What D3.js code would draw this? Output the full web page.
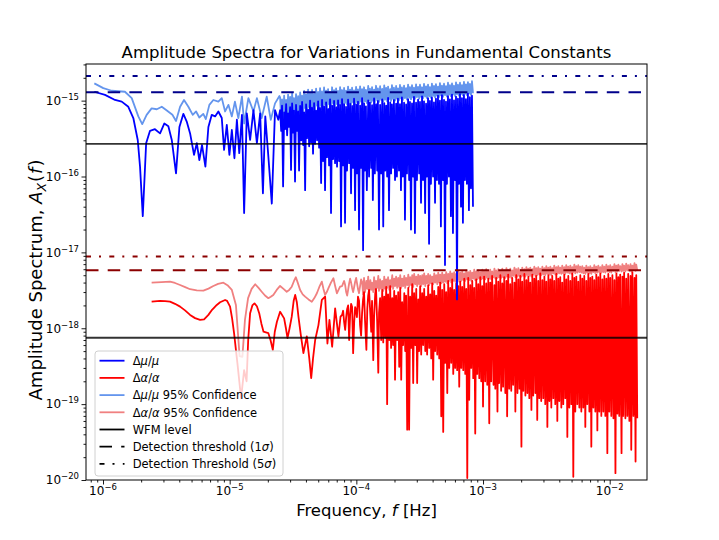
<!DOCTYPE html>
<html>
<head>
<meta charset="utf-8">
<script src="https://cdn.jsdelivr.net/npm/d3@7"></script>
<style>
  body { margin: 0; background: #fff; }
  svg { font-family: "DejaVu Sans", sans-serif; }
  text { white-space: pre; }
</style>
</head>
<body>
<svg id="chart" width="719" height="540"></svg>
<script>
// units used in the arrays below
var FREQ_UNIT = 1e-6;    // frequencies in microhertz
var MU_UNIT = 1e-16;     // dmu/mu amplitudes in 1e-16
var ALPHA_UNIT = 1e-18;  // dalpha/alpha amplitudes in 1e-18

// dmu/mu, low frequency part
var muFreqLow = [0.854, 1.037, 1.244, 1.405, 1.584, 1.735, 1.88, 1.96, 2.06, 2.19,
  2.35, 2.57, 2.82, 3.05, 3.28, 3.49, 3.77, 4.01, 4.31, 4.58,
  4.87, 5.23, 5.50, 5.76, 6.05, 6.43, 6.79, 7.22, 7.67, 8.14,
  8.66, 9.03, 9.49, 9.95, 10.4, 10.9, 11.4, 11.9, 12.5, 13.0,
  13.65, 14.5, 15.4, 16.4, 17.4, 18.3, 19.1, 20.2, 21.5, 22.8, 24.2];
var muAmpLow = [13.1, 11.9, 10.2, 9.7, 8.3, 5.9, 3.03, 1.35, 0.30, 2.75,
  4.0, 4.2, 3.7, 5.0, 4.6, 3.03, 1.1, 4.5, 6.7, 5.3,
  3.7, 1.93, 2.75, 1.65, 2.6, 1.35, 4.5, 6.5, 6.2, 7.2,
  5.9, 2.24, 4.8, 1.93, 4.1, 1.74, 5.6, 2.03, 6.5, 0.33,
  6.8, 3.03, 7.5, 2.75, 6.8, 0.60, 6.2, 1.83, 0.44, 7.5, 5.6];

var muConfFreqLow = [0.854, 1.005, 1.171, 1.49, 1.685, 1.90, 2.04, 2.21, 2.42, 2.66,
  2.91, 3.19, 3.53, 3.77, 4.06, 4.36, 4.72, 5.11, 5.43, 5.76,
  6.19, 6.48, 6.91, 7.43, 8.14, 8.66, 9.20, 9.77, 10.4, 11.0,
  11.7, 12.5, 13.0, 14.05, 15.4, 16.4, 17.9, 19.6, 21.1, 22.8, 24.7];
var muConfAmpLow = [16.9, 14.6, 13.5, 13.1, 10.8, 6.2, 4.9, 6.5, 7.9, 7.7,
  8.3, 7.4, 6.5, 5.4, 8.3, 10.2, 8.3, 6.5, 7.2, 6.0,
  6.7, 5.7, 8.8, 10.2, 9.7, 10.8, 7.2, 8.8, 6.2, 9.7,
  5.9, 11.3, 5.0, 10.8, 7.2, 10.8, 5.9, 11.3, 5.6, 9.2, 11.5];

// dmu/mu, dense part (peaks and troughs)
var muFreqHigh = [25.0, 25.5, 25.9, 26.4, 26.9, 27.4, 27.9, 28.4, 28.9, 29.4,
  30.0, 30.5, 31.1, 31.7, 32.2, 32.8, 33.4, 34.0, 34.7, 35.3,
  36.0, 36.7, 37.3, 38.0, 38.7, 39.4, 40.1, 40.8, 41.6, 42.4,
  43.1, 43.9, 44.7, 45.5, 46.4, 47.2, 48.1, 49.0, 49.9, 50.8,
  51.7, 52.7, 53.6, 54.6, 55.6, 56.6, 57.7, 58.7, 59.8, 60.9,
  62.0, 63.1, 64.3, 65.5, 66.7, 67.9, 69.2, 70.4, 71.7, 73.0,
  74.4, 75.7, 77.1, 78.5, 80.0, 81.4, 82.9, 84.4, 86.0, 87.6,
  89.2, 90.8, 92.5, 94.2, 95.9, 97.7, 99.5, 101, 103, 105,
  107, 109, 111, 113, 115, 117, 119, 121, 124, 126,
  128, 131, 133, 135, 138, 140, 143, 146, 148, 151,
  154, 157, 160, 163, 166, 169, 172, 175, 178, 181,
  185, 188, 191, 195, 198, 202, 206, 209, 213, 217,
  221, 225, 229, 233, 238, 242, 247, 251, 256, 261,
  265, 270, 275, 280, 285, 290, 296, 301, 307, 313,
  318, 324, 330, 336, 342, 349, 355, 361, 368, 375,
  381, 388, 395, 403, 410, 418, 425, 433, 441, 449,
  457, 465, 474, 483, 492, 501, 510, 519, 529, 538,
  548, 558, 569, 579, 590, 601, 612, 623, 634, 646,
  658, 670, 682, 694, 707, 720, 733, 746, 760, 774,
  788, 803, 818, 833];
var muAmpHigh = [7.5, 4.0, 8.6, 0.74, 7.0, 4.2, 9.0, 3.5, 6.8, 4.5, 8.2, 1.22, 9.2, 3.8, 7.4, 0.86, 8.8, 4.0, 7.2, 1.2,
  8.5, 3.0, 9.6, 2.6, 7.0, 0.66, 8.9, 3.2, 7.6, 2.5, 10.0, 2.8, 8.1, 2.0, 9.3, 2.7, 7.4, 3.0, 9.8, 2.4,
  8.0, 0.82, 10.2, 1.6, 8.4, 0.66, 9.5, 1.8, 7.8, 1.4, 10.4, 0.33, 8.6, 1.7, 9.9, 1.5, 8.2, 1.35, 10.1, 1.6,
  8.8, 0.22, 10.5, 1.4, 9.0, 0.245, 8.3, 1.2, 10.3, 1.5, 9.1, 0.6, 8.5, 1.3, 10.6, 0.36, 8.9, 1.1, 9.7, 0.2,
  8.6, 1.3, 10.8, 0.107, 9.2, 1.2, 8.4, 0.66, 10.1, 1.0, 9.4, 1.3, 8.7, 0.49, 10.7, 1.1, 9.0, 1.2, 9.9, 0.2,
  8.8, 1.1, 10.4, 0.22, 9.3, 1.2, 8.6, 1.0, 10.9, 0.36, 9.5, 1.1, 8.9, 1.3, 10.2, 0.9, 9.1, 1.0, 10.6, 1.2,
  9.0, 0.66, 11.0, 1.0, 9.4, 0.27, 8.9, 1.1, 10.5, 0.9, 9.6, 0.2, 9.2, 1.0, 11.2, 0.18, 9.4, 0.9, 10.3, 1.1,
  9.6, 0.45, 11.4, 0.9, 9.8, 0.33, 9.1, 1.0, 10.8, 0.13, 9.9, 0.8, 11.0, 1.0, 9.5, 0.45, 10.6, 0.9, 11.6, 0.8,
  10.0, 0.22, 11.8, 0.9, 10.2, 0.068, 9.7, 0.8, 11.5, 1.0, 10.4, 0.3, 12.0, 0.18, 10.1, 0.9, 11.3, 0.024, 10.6, 0.8,
  12.2, 0.4, 10.8, 0.245, 11.9, 0.9, 10.5, 0.8, 12.4, 0.36, 11.1, 0.7, 11.6, 0.4];
var muConfAmpHigh = [11.0, 6.0, 10.4, 5.0, 11.6, 7.0, 10.2, 4.5, 12.0, 6.5, 11.2, 5.5, 12.5, 7.2, 10.8, 4.8, 12.2, 6.8, 11.5, 5.6,
  12.8, 7.5, 11.6, 6.4, 13.4, 8.0, 12.1, 6.9, 14.0, 8.2, 12.6, 7.0, 13.8, 8.4, 12.3, 7.4, 14.4, 8.6, 13.0, 7.8,
  14.6, 8.5, 13.2, 7.8, 14.9, 8.9, 13.5, 8.1, 14.2, 9.0, 13.0, 8.3, 15.0, 9.2, 13.7, 8.5, 14.5, 9.0, 13.4, 8.7,
  15.1, 9.1, 13.8, 8.6, 14.7, 9.3, 13.5, 8.9, 15.3, 9.4, 14.0, 8.8, 14.8, 9.5, 13.6, 9.0, 15.2, 9.6, 14.1, 9.1,
  15.4, 9.7, 14.2, 9.2, 15.0, 9.8, 13.9, 9.3, 15.6, 9.9, 14.4, 9.4, 15.1, 10.0, 14.0, 9.5, 15.7, 10.1, 14.5, 9.6,
  15.5, 10.2, 14.3, 9.7, 15.9, 10.3, 14.7, 9.8, 15.3, 10.4, 14.2, 9.9, 16.0, 10.5, 14.8, 10.0, 15.6, 10.6, 14.5, 10.1,
  16.1, 10.7, 14.9, 10.2, 15.8, 10.8, 14.6, 10.3, 16.3, 10.9, 15.1, 10.4, 16.0, 11.0, 14.8, 10.5, 16.4, 11.1, 15.2, 10.6,
  16.2, 11.2, 15.0, 10.7, 16.6, 11.3, 15.4, 10.8, 16.3, 11.4, 15.1, 10.9, 16.8, 11.5, 15.6, 11.0, 16.5, 11.6, 15.3, 11.1,
  17.0, 11.7, 15.8, 11.2, 16.7, 11.8, 15.5, 11.3, 17.2, 11.9, 16.0, 11.4, 16.9, 12.0, 15.7, 11.5, 17.4, 12.1, 16.2, 11.6,
  17.2, 12.2, 16.0, 11.7, 17.7, 12.3, 16.4, 11.8, 17.5, 12.4, 16.6, 11.9, 18.0, 12.5];

// dalpha/alpha, low frequency part
var alphaFreqLow = [2.42, 2.82, 3.09, 3.38, 3.70, 4.06, 4.44, 4.87, 5.33, 5.84,
  6.28, 6.79, 7.26, 7.91, 8.4, 9.20, 9.54, 10.07, 10.45, 10.83,
  11.5, 12.3, 13.0, 13.6, 14.0, 14.5, 15.1, 15.7, 16.4, 17.1,
  17.8, 18.5, 19.3, 20.2, 21.0, 21.9, 22.7, 23.6, 25.0, 26.9,
  27.8, 28.6, 29.7, 30.9, 32.0, 32.9, 33.9, 34.9, 36.5, 38.2,
  40.6, 42.5, 44.0, 45.5, 47.3, 50.2, 53.4, 56.7, 59.1, 61.3,
  64.4, 68.0, 72.2, 75.0];
var alphaAmpLow = [2.24, 2.29, 2.28, 2.24, 2.10, 1.93, 1.72, 1.50, 1.36, 1.29,
  1.31, 1.50, 1.75, 2.03, 2.2, 2.36, 2.3, 1.93, 1.35, 0.86,
  0.35, 0.12, 0.28, 0.2, 0.7, 1.58, 2.0, 2.13, 1.95, 1.58,
  1.15, 0.90, 0.88, 0.86, 0.7, 0.52, 0.9, 1.22, 1.65, 1.35,
  1.0, 0.74, 1.0, 1.42, 2.3, 2.75, 2.2, 1.42, 0.8, 0.47,
  0.78, 0.4, 0.22, 0.4, 0.70, 1.10, 2.36, 2.61, 0.63, 1.29,
  0.57, 1.83, 0.78, 1.42];

var alphaConfFreqLow = [2.42, 2.9, 3.38, 3.7, 4.06, 4.45, 4.87, 5.5, 6.20, 6.8,
  7.43, 8.1, 8.92, 9.6, 10.4, 11.2, 11.97, 12.6, 13.2, 13.97,
  14.9, 15.9, 16.9, 17.9, 19.0, 20.2, 21.1, 22.1, 23.5, 25.0,
  26.6, 28.2, 29.5, 30.9, 32.2, 33.3, 34.6, 36.0, 37.7, 39.4,
  41.9, 44.5, 46.6, 48.8, 51.0, 53.4, 55.0, 56.7, 58.4, 60.2,
  63.0, 65.9, 68.0, 70.2, 72.3, 74.4];
var alphaConfAmpLow = [3.99, 4.05, 4.11, 3.95, 3.72, 3.48, 3.27, 3.15, 3.13, 3.33,
  3.61, 3.85, 3.99, 3.7, 3.2, 2.03, 0.43, 0.42, 1.29, 2.49,
  3.3, 3.80, 3.4, 3.03, 2.7, 2.49, 2.6, 2.75, 3.2, 3.61,
  3.3, 3.03, 3.2, 3.53, 4.2, 4.70, 3.9, 3.2, 2.8, 2.61,
  2.4, 2.24, 2.5, 2.89, 3.5, 4.11, 3.3, 2.75, 3.0, 3.37,
  4.0, 4.56, 3.6, 2.89, 3.2, 3.53];

// dalpha/alpha, dense part
var alphaFreqHigh = [77.2, 78.6, 80.1, 81.6, 83.1, 84.6, 86.1, 87.7, 89.3, 90.9,
  92.6, 94.3, 96.1, 97.8, 99.6, 101, 103, 105, 107, 109,
  111, 113, 115, 117, 120, 122, 124, 126, 129, 131,
  133, 136, 138, 141, 143, 146, 149, 151, 154, 157,
  160, 163, 166, 169, 172, 175, 178, 182, 185, 188,
  192, 195, 199, 202, 206, 210, 214, 218, 222, 226,
  230, 234, 239, 243, 247, 252, 257, 261, 266, 271,
  276, 281, 286, 292, 297, 302, 308, 313, 319, 325,
  331, 337, 343, 350, 356, 362, 369, 376, 383, 390,
  397, 404, 412, 419, 427, 435, 443, 451, 459, 468,
  476, 485, 494, 503, 512, 522, 531, 541, 551, 561,
  571, 582, 592, 603, 614, 625, 637, 649, 661, 673,
  685, 698, 711, 724, 737, 751, 764, 778, 793, 807,
  822, 837, 852, 868, 884, 900, 917, 934, 951, 968,
  986, 1000, 1020, 1040, 1060, 1080, 1100, 1120, 1140, 1160,
  1180, 1210, 1230, 1250, 1270, 1300, 1320, 1340, 1370, 1390,
  1420, 1440, 1470, 1500, 1530, 1550, 1580, 1610, 1640, 1670,
  1700, 1730, 1770, 1800, 1830, 1870, 1900, 1940, 1970, 2010,
  2040, 2080, 2120, 2160, 2200, 2240, 2280, 2320, 2360, 2410,
  2450, 2490, 2540, 2590, 2630, 2680, 2730, 2780, 2830, 2880,
  2940, 2990, 3050, 3100, 3160, 3220, 3280, 3340, 3400, 3460,
  3520, 3590, 3650, 3720, 3790, 3860, 3930, 4000, 4070, 4150,
  4220, 4300, 4380, 4460, 4540, 4630, 4710, 4800, 4890, 4980,
  5070, 5160, 5260, 5350, 5450, 5550, 5650, 5760, 5860, 5970,
  6080, 6190, 6300, 6420, 6540, 6660, 6780, 6910, 7030, 7160,
  7290, 7430, 7560, 7700, 7840, 7990, 8130, 8280, 8430, 8590,
  8750, 8910, 9070, 9240, 9410, 9580, 9750, 9930, 10100, 10300,
  10500, 10700, 10900, 11100, 11300, 11500, 11700, 11900, 12100, 12400,
  12600, 12800, 13000, 13300, 13500, 13800, 14000, 14300, 14600, 14800,
  15100, 15400, 15700, 16000, 16200, 16500];
var alphaAmpHigh = [1.5, 1.7, 1.2, 0.95, 1.4, 1.8, 2.0, 0.70, 1.5, 2.1, 1.9, 0.47, 1.2, 1.9, 1.7, 1.4, 2.6, 2.3, 1.1, 0.8,
  1.6, 2.4, 3.0, 1.3, 0.52, 1.8, 2.7, 3.2, 1.5, 0.9, 2.3, 0.38, 1.4, 2.9, 3.3, 1.2, 0.26, 1.6, 2.5, 0.7,
  3.2, 0.65, 2.6, 0.75, 3.5, 0.10, 2.8, 0.7, 3.6, 0.55, 2.5, 0.6, 3.1, 0.21, 2.7, 0.7, 3.0, 0.31, 3.4, 0.21,
  2.2, 0.6, 2.9, 0.5, 2.7, 0.046, 3.4, 0.046, 2.6, 0.55, 3.8, 0.19, 2.9, 0.6, 3.3, 0.19, 2.4, 0.5, 3.6, 0.45,
  2.9, 0.6, 3.3, 0.5, 2.6, 0.45, 3.7, 0.55, 2.8, 0.4, 3.9, 0.21, 3.1, 0.5, 2.7, 0.45, 3.5, 0.4, 4.0, 0.069,
  3.2, 0.043, 3.8, 0.35, 3.0, 0.14, 4.2, 0.3, 3.4, 0.35, 4.4, 0.25, 3.2, 0.3, 3.9, 0.28, 3.6, 0.17, 4.1, 0.3,
  3.5, 0.28, 4.5, 0.25, 3.3, 0.0106, 4.6, 0.114, 3.7, 0.3, 4.2, 0.22, 3.4, 0.041, 4.4, 0.25, 3.8, 0.22, 4.7, 0.2,
  3.6, 0.093, 4.8, 0.2, 3.9, 0.18, 4.5, 0.056, 4.0, 0.2, 4.9, 0.18, 3.7, 0.16, 4.6, 0.08, 4.1, 0.19, 5.0, 0.15,
  3.9, 0.17, 4.7, 0.14, 4.2, 0.069, 5.1, 0.16, 3.8, 0.15, 4.6, 0.18, 4.0, 0.08, 5.0, 0.14, 4.4, 0.16, 4.9, 0.0275,
  4.1, 0.15, 5.2, 0.13, 4.3, 0.14, 4.8, 0.12, 4.0, 0.084, 5.1, 0.13, 4.5, 0.14, 4.9, 0.062, 4.2, 0.12, 5.3, 0.11,
  4.3, 0.12, 4.8, 0.1, 4.1, 0.05, 5.0, 0.11, 4.4, 0.09, 4.9, 0.12, 4.2, 0.1, 5.2, 0.06, 4.5, 0.11, 4.7, 0.09,
  4.0, 0.1, 5.1, 0.12, 4.4, 0.037, 4.9, 0.09, 4.2, 0.1, 5.3, 0.011, 4.6, 0.08, 4.8, 0.1, 4.1, 0.09, 5.0, 0.08,
  4.5, 0.09, 4.9, 0.05, 4.2, 0.1, 5.2, 0.08, 4.6, 0.0275, 4.8, 0.09, 4.3, 0.08, 5.1, 0.045, 4.7, 0.08, 5.3, 0.07,
  4.4, 0.08, 4.9, 0.07, 4.5, 0.0226, 5.2, 0.08, 4.6, 0.07, 5.0, 0.065, 4.3, 0.0123, 5.3, 0.075, 4.7, 0.07, 5.1, 0.0226,
  4.8, 0.07, 5.4, 0.065, 4.5, 0.07, 5.2, 0.06, 4.9, 0.025, 5.5, 0.07, 4.6, 0.0175, 5.0, 0.065];
var alphaConfAmpHigh = [3.6, 3.9, 4.2, 3.7, 3.0, 2.7, 3.2, 3.9, 4.5, 4.0, 3.4, 3.0, 3.5, 4.1, 4.6, 4.0, 3.3, 2.9, 3.6, 4.4,
  4.1, 2.8, 4.6, 3.0, 4.2, 3.3, 4.8, 2.9, 4.3, 3.2, 4.0, 3.0, 4.7, 3.2, 4.2, 3.4, 4.9, 3.1, 4.4, 3.3,
  4.2, 3.1, 4.8, 3.3, 4.4, 3.4, 4.7, 3.2, 4.3, 3.5, 5.0, 3.3, 4.5, 3.6, 4.8, 3.4, 4.6, 3.5, 5.0, 3.4,
  4.5, 3.6, 4.9, 3.4, 4.6, 3.7, 5.1, 3.5, 4.7, 3.7, 5.0, 3.5, 5.2, 3.8, 4.8, 3.6, 5.1, 3.8, 4.9, 3.6,
  5.0, 3.8, 5.3, 3.6, 4.9, 3.9, 5.2, 3.7, 5.0, 3.9, 4.8, 3.8, 5.3, 4.0, 5.0, 3.8, 5.4, 4.0, 5.1, 3.9,
  5.4, 4.0, 5.1, 4.1, 5.5, 3.9, 5.2, 4.2, 5.6, 4.0, 5.3, 4.2, 5.5, 4.1, 5.2, 4.3, 5.7, 4.1, 5.4, 4.2,
  5.6, 4.3, 5.3, 4.2, 5.8, 4.4, 5.5, 4.3, 5.7, 4.2, 5.4, 4.5, 5.9, 4.3, 5.6, 4.4, 5.8, 4.5, 5.5, 4.4,
  5.9, 4.5, 5.6, 4.4, 6.0, 4.6, 5.7, 4.5, 5.9, 4.4, 5.6, 4.7, 6.1, 4.5, 5.8, 4.6, 6.0, 4.7, 5.7, 4.6,
  6.1, 4.7, 5.8, 4.6, 6.2, 4.8, 5.9, 4.7, 6.1, 4.6, 5.8, 4.9, 6.3, 4.7, 6.0, 4.8, 6.2, 4.9, 5.9, 4.8,
  6.3, 4.9, 6.0, 4.8, 6.4, 5.0, 6.1, 4.9, 6.3, 4.8, 6.0, 5.1, 6.5, 4.9, 6.2, 5.0, 6.4, 5.1, 6.1, 5.0,
  6.5, 5.1, 6.2, 5.0, 6.6, 5.2, 6.3, 5.1, 6.5, 5.0, 6.2, 5.3, 6.7, 5.1, 6.4, 5.2, 6.6, 5.3, 6.3, 5.2,
  6.7, 5.3, 6.4, 5.2, 6.8, 5.4, 6.5, 5.3, 6.7, 5.2, 6.4, 5.5, 6.9, 5.3, 6.6, 5.4, 6.8, 5.5, 6.5, 5.4,
  6.6, 5.3, 6.3, 5.2, 6.7, 5.4, 6.4, 5.3, 6.6, 5.2, 6.3, 5.5, 6.8, 5.3, 6.5, 5.4, 6.7, 5.5, 6.4, 5.4,
  6.8, 5.5, 6.5, 5.4, 6.9, 5.6, 6.6, 5.5, 6.8, 5.4, 6.5, 5.7, 7.0, 5.5, 6.7, 5.6, 6.9, 5.7, 6.6, 5.6,
  7.0, 5.7, 6.7, 5.6, 7.1, 5.8, 6.8, 5.7, 7.0, 5.6, 6.7, 5.9, 7.2, 5.7, 6.9, 5.8];

// horizontal reference levels: [dmu/mu, dalpha/alpha]
var wfmLevel = [2.69e-16, 7.5e-19];
var threshold1Sigma = [1.29e-15, 5.8e-18];
var threshold5Sigma = [2.12e-15, 8.85e-18];
var thresholdColors = ["#00008b", "#8b0000"];

var xTickExp = [-6, -5, -4, -3, -2];
var yTickExp = [-20, -19, -18, -17, -16, -15];

function pairs(freqs, amps, unit) {
  return freqs.map(function(f, i) { return [f * FREQ_UNIT, amps[i] * unit]; });
}

var muData = pairs(muFreqLow.concat(muFreqHigh), muAmpLow.concat(muAmpHigh), MU_UNIT);
var muConfData = pairs(muConfFreqLow.concat(muFreqHigh), muConfAmpLow.concat(muConfAmpHigh), MU_UNIT);
var alphaData = pairs(alphaFreqLow.concat(alphaFreqHigh), alphaAmpLow.concat(alphaAmpHigh), ALPHA_UNIT);
var alphaConfData = pairs(alphaConfFreqLow.concat(alphaFreqHigh), alphaConfAmpLow.concat(alphaConfAmpHigh), ALPHA_UNIT);

var L = 86, R = 647, T = 64, B = 480;
var svg = d3.select("#chart");

var x = d3.scaleLog().domain([7.34e-7, 1.97e-2]).range([L, R]);
var y = d3.scaleLog().domain([1e-20, 3.04e-15]).range([B, T]);

svg.append("defs").append("clipPath").attr("id", "plotclip")
  .append("rect").attr("x", L).attr("y", T).attr("width", R - L).attr("height", B - T);

var plot = svg.append("g").attr("clip-path", "url(#plotclip)");

var line = d3.line().x(function(d) { return x(d[0]); }).y(function(d) { return y(d[1]); });

// confidence first, then the spectra on top
var series = [
  {data: alphaConfData, color: "#f08080"},
  {data: alphaData, color: "#ff0000"},
  {data: muConfData, color: "#6495ed"},
  {data: muData, color: "#0000ff"}
];
series.forEach(function(s) {
  plot.append("path").datum(s.data)
    .attr("d", line)
    .attr("fill", "none")
    .attr("stroke", s.color)
    .attr("stroke-width", 1.8)
    .attr("stroke-linejoin", "round");
});

// reference levels
function hline(val, color, dash, width, opacity) {
  plot.append("line")
    .attr("x1", L).attr("x2", R)
    .attr("y1", y(val)).attr("y2", y(val))
    .attr("stroke", color)
    .attr("stroke-width", width)
    .attr("stroke-opacity", opacity)
    .attr("stroke-dasharray", dash);
}
wfmLevel.forEach(function(v) { hline(v, "#000", null, 1.8, 0.8); });
threshold1Sigma.forEach(function(v, i) { hline(v, thresholdColors[i], "12.5,9.2", 2, 1); });
threshold5Sigma.forEach(function(v, i) { hline(v, thresholdColors[i], "5,8,2,8.3", 2, 1); });

// axes
function minorTicks(lo, hi) {
  var out = [];
  for (var e = lo; e <= hi; e++) {
    for (var m = 2; m <= 9; m++) out.push(m * Math.pow(10, e));
  }
  return out;
}
var xMinor = minorTicks(-7, -2).filter(function(v) { return v >= x.domain()[0] && v <= x.domain()[1]; });
var yMinor = minorTicks(-20, -15).filter(function(v) { return v >= y.domain()[0] && v <= y.domain()[1]; });

var xAxisG = svg.append("g").attr("transform", "translate(0," + B + ")");
xAxisG.call(d3.axisBottom(x).tickValues(xMinor).tickSize(2.5).tickSizeOuter(0).tickFormat(""));
xAxisG.append("g").call(d3.axisBottom(x).tickValues(xTickExp.map(function(e) { return Math.pow(10, e); }))
  .tickSize(4.5).tickSizeOuter(0).tickFormat(""));
xAxisG.selectAll(".domain").remove();
xAxisG.selectAll("line").attr("stroke", "#000").attr("stroke-width", 0.9);

var yAxisG = svg.append("g").attr("transform", "translate(" + L + ",0)");
yAxisG.call(d3.axisLeft(y).tickValues(yMinor).tickSize(2.5).tickSizeOuter(0).tickFormat(""));
yAxisG.append("g").call(d3.axisLeft(y).tickValues(yTickExp.map(function(e) { return Math.pow(10, e); }))
  .tickSize(4.5).tickSizeOuter(0).tickFormat(""));
yAxisG.selectAll(".domain").remove();
yAxisG.selectAll("line").attr("stroke", "#000").attr("stroke-width", 0.9);

function powerLabel(g, px, py, exp, anchor) {
  var t = g.append("text").attr("x", px).attr("y", py)
    .attr("text-anchor", anchor).attr("font-size", 12).attr("fill", "#000");
  t.append("tspan").text("10");
  t.append("tspan").attr("dy", -5).attr("font-size", 8.5).text("\u2212" + Math.abs(exp));
}
xTickExp.forEach(function(e) { powerLabel(svg, x(Math.pow(10, e)), 495, e, "middle"); });
yTickExp.forEach(function(e) { powerLabel(svg, 79, y(Math.pow(10, e)) + 4.3, e, "end"); });

svg.append("rect").attr("x", L).attr("y", T).attr("width", R - L).attr("height", B - T)
  .attr("fill", "none").attr("stroke", "#000").attr("stroke-width", 1);

// title and axis labels
svg.append("text").attr("x", (L + R) / 2).attr("y", 58).attr("text-anchor", "middle")
  .attr("font-size", 16.5).text("Amplitude Spectra for Variations in Fundamental Constants");

var xl = svg.append("text").attr("x", (L + R) / 2).attr("y", 516).attr("text-anchor", "middle")
  .attr("font-size", 16.5);
xl.append("tspan").text("Frequency, ");
xl.append("tspan").attr("font-style", "italic").text("f");
xl.append("tspan").text(" [Hz]");

var yl = svg.append("text").attr("transform", "translate(42,280) rotate(-90)")
  .attr("text-anchor", "middle").attr("font-size", 18);
yl.append("tspan").text("Amplitude Spectrum, ");
yl.append("tspan").attr("font-style", "italic").text("A");
yl.append("tspan").attr("font-style", "italic").attr("font-size", 12.5).attr("dy", 4).text("X");
yl.append("tspan").attr("dy", -4).attr("dx", 1).text("(");
yl.append("tspan").attr("font-style", "italic").attr("dx", 1).text("f");
yl.append("tspan").attr("dx", 1).text(")");

// legend
var legendItems = [
  {parts: [["\u0394", 0], ["\u03bc", 1], ["/", 0], ["\u03bc", 1]], color: "#0000ff", dash: null},
  {parts: [["\u0394", 0], ["\u03b1", 1], ["/", 0], ["\u03b1", 1]], color: "#ff0000", dash: null},
  {parts: [["\u0394", 0], ["\u03bc", 1], ["/", 0], ["\u03bc", 1], [" 95% Confidence", 0]], color: "#6495ed", dash: null},
  {parts: [["\u0394", 0], ["\u03b1", 1], ["/", 0], ["\u03b1", 1], [" 95% Confidence", 0]], color: "#f08080", dash: null},
  {parts: [["WFM level", 0]], color: "#000", dash: null},
  {parts: [["Detection threshold (1", 0], ["\u03c3", 1], [")", 0]], color: "#000", dash: "12.5,9.2"},
  {parts: [["Detection Threshold (5", 0], ["\u03c3", 1], [")", 0]], color: "#000", dash: "5,8,2,8.3"}
];

var lg = svg.append("g");
lg.append("rect").attr("x", 95).attr("y", 351).attr("width", 188).attr("height", 125)
  .attr("rx", 3).attr("fill", "#fff").attr("fill-opacity", 0.8)
  .attr("stroke", "#d0d0d0").attr("stroke-width", 1);

legendItems.forEach(function(item, i) {
  var ry = 360.7 + i * 17.2;
  lg.append("line").attr("x1", 99.5).attr("x2", 124.5).attr("y1", ry).attr("y2", ry)
    .attr("stroke", item.color).attr("stroke-width", 1.8)
    .attr("stroke-dasharray", item.dash);
  var t = lg.append("text").attr("x", 132.7).attr("y", ry + 4.2).attr("font-size", 11.5);
  item.parts.forEach(function(p) {
    t.append("tspan").attr("font-style", p[1] ? "italic" : "normal").text(p[0]);
  });
});
</script>
</body>
</html>
